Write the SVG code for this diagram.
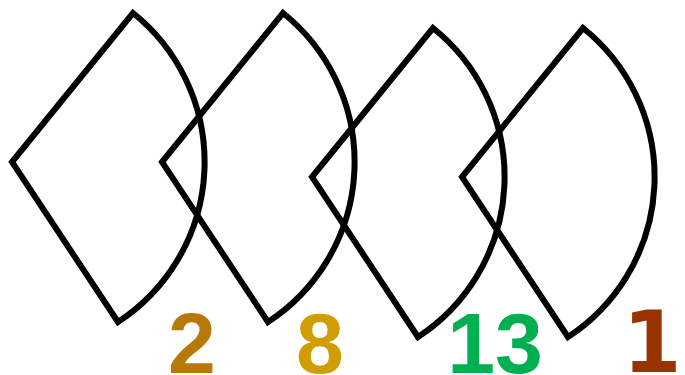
<svg xmlns="http://www.w3.org/2000/svg" width="685" height="375" viewBox="0 0 685 375">
<defs>
<style>
.s{fill:none;stroke:#000;stroke-width:6;stroke-linejoin:miter;stroke-miterlimit:10}
.t{font-family:"Liberation Sans",Arial,sans-serif;font-weight:bold;font-size:86px;text-anchor:middle}
.d{font-family:"DejaVu Sans",sans-serif;font-weight:bold;font-size:85px;text-anchor:middle}
</style>
<path id="sec" d="M0,0 L121,-149 A191,191 0 0 1 106,160 Z"/>
</defs>
<g id="sector1"><use href="#sec" class="s" transform="translate(12,162)"/></g>
<g id="sector2"><use href="#sec" class="s" transform="translate(162,162)"/></g>
<g id="sector3"><use href="#sec" class="s" transform="translate(312,177)"/></g>
<g id="sector4"><use href="#sec" class="s" transform="translate(462,177)"/></g>
<g id="labels">
<text class="t" x="192" y="373" fill="#b8790a">2</text>
<text class="t" x="320" y="373" fill="#d09e04">8</text>
<text class="t" x="495" y="373" fill="#00b050">13</text>
<text class="d" x="652" y="372" fill="#993300">1</text>
</g>
</svg>
